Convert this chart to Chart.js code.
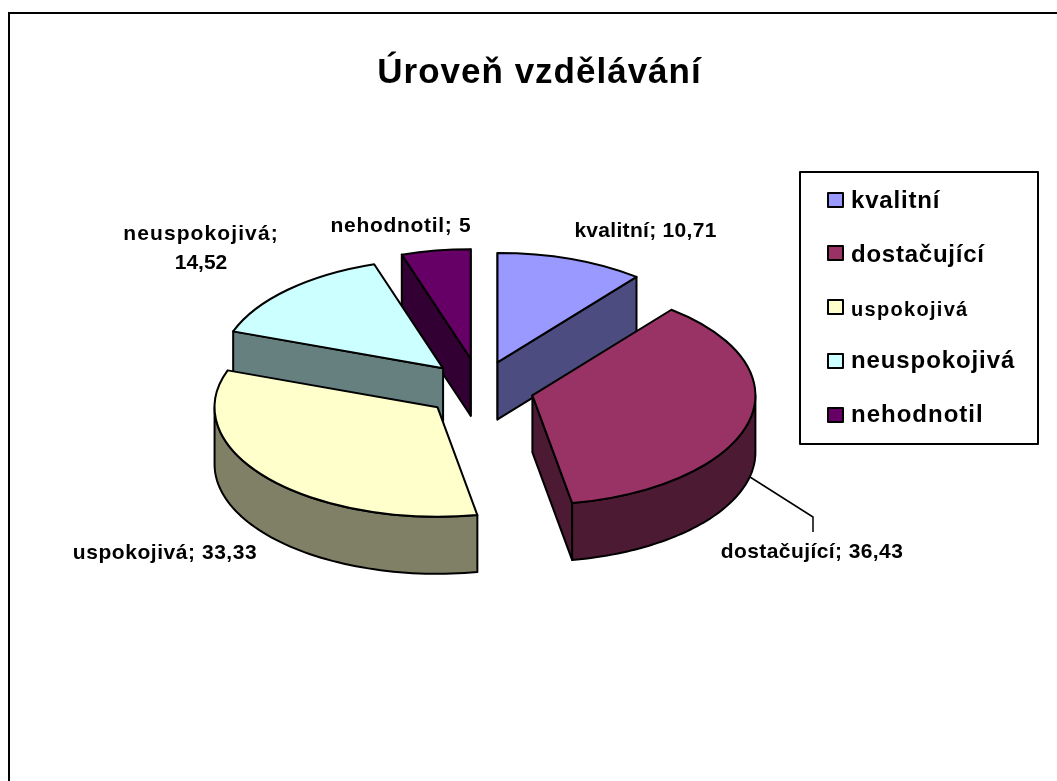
<!DOCTYPE html>
<html>
<head>
<meta charset="utf-8">
<title>Úroveň vzdělávání</title>
<script src="https://cdn.jsdelivr.net/npm/chart.js@4"></script>
<style>
  html, body { margin: 0; padding: 0; background: #fff; overflow: hidden; }
  #frame { position: absolute; left: 8px; top: 12px; width: 1056px; height: 769px; border-left: 2px solid #000; border-top: 2px solid #000; }
  #chart { display: block; }
</style>
</head>
<body>
<div id="frame"><canvas id="chart" width="1054" height="767"></canvas></div>
<script>
var categories = ['kvalitní', 'dostačující', 'uspokojivá', 'neuspokojivá', 'nehodnotil'];
var values = [10.71, 36.43, 33.33, 14.52, 5];
var topColors = ['#9999FF', '#993366', '#FFFFCC', '#CCFFFF', '#660066'];
var wallColors = ['#4C4C80', '#4D1A33', '#808066', '#668080', '#330033'];

// back to front
var drawOrder = [4, 3, 0, 2, 1];

var SQUASH = 0.491;
var DEPTH = 57;
var EXPLODE = 53;
var FONT = '"Liberation Sans", Arial, sans-serif';
var sliceNudge = [[0, 0], [1, 2], [-2, 3.5], [0, 0], [-1, -2.5]];

// text positions, canvas coords
var labelLines = [
  [categories[0] + '; ' + String(values[0]).replace('.', ',')],
  [categories[1] + '; ' + String(values[1]).replace('.', ',')],
  [categories[2] + '; ' + String(values[2]).replace('.', ',')],
  [categories[3] + ';', String(values[3]).replace('.', ',')],
  [categories[4] + '; ' + String(values[4]).replace('.', ',')]
];
var labelX = [635.5, 802, 155, 191, 391];
var labelY = [223, 544, 545, 226, 218];
var labelSpacing = [0.3, 0.42, 0.55, 1.1, 0.7];
var leaderLine = [[740, 463], [803, 503], [803, 518]];
var legendBox = [790, 158, 238, 272];
var legendRowY = [186, 239, 293, 347, 401];
var legendTextY = [194, 248, 302, 354, 408];
var legendFontSize = [24, 24, 20, 24, 24];
var legendSpacing = [0.8, 0.76, 1.3, 0.9, 1];

function piePoint(arc, off, angle) {
  return {
    x: arc.x + off.x + arc.outerRadius * Math.cos(angle),
    y: arc.y + off.y + arc.outerRadius * Math.sin(angle) * SQUASH
  };
}

function drawFace(ctx, apex, p) {
  ctx.beginPath();
  ctx.moveTo(apex.x, apex.y);
  ctx.lineTo(p.x, p.y);
  ctx.lineTo(p.x, p.y + DEPTH);
  ctx.lineTo(apex.x, apex.y + DEPTH);
  ctx.closePath();
  ctx.fill();
  ctx.stroke();
}

function drawSlice(ctx, arc, i) {
  var mid = (arc.startAngle + arc.endAngle) / 2;
  var off = {
    x: EXPLODE * Math.cos(mid) + sliceNudge[i][0],
    y: EXPLODE * Math.sin(mid) * SQUASH + sliceNudge[i][1]
  };
  var apex = { x: arc.x + off.x, y: arc.y + off.y };

  ctx.lineWidth = 2;
  ctx.lineJoin = 'round';
  ctx.strokeStyle = '#000';
  ctx.fillStyle = wallColors[i];

  // cut faces, only those turned towards us
  if (Math.cos(arc.startAngle) <= 1e-6) drawFace(ctx, apex, piePoint(arc, off, arc.startAngle));
  if (Math.cos(arc.endAngle) >= -1e-6) drawFace(ctx, apex, piePoint(arc, off, arc.endAngle));

  // outer wall, only the part that faces us
  var twoPi = Math.PI * 2;
  for (var k = -1; k <= 1; k++) {
    var from = Math.max(arc.startAngle, k * twoPi);
    var to = Math.min(arc.endAngle, k * twoPi + Math.PI);
    if (to <= from) continue;
    ctx.beginPath();
    for (var s = 0; s <= 60; s++) {
      var top = piePoint(arc, off, from + (to - from) * s / 60);
      if (s === 0) ctx.moveTo(top.x, top.y); else ctx.lineTo(top.x, top.y);
    }
    for (var t = 60; t >= 0; t--) {
      var low = piePoint(arc, off, from + (to - from) * t / 60);
      ctx.lineTo(low.x, low.y + DEPTH);
    }
    ctx.closePath();
    ctx.fill();
    ctx.stroke();
  }

  // top face: the library's own arc under a squashed transform
  ctx.save();
  ctx.translate(arc.x, arc.y);
  ctx.scale(1, SQUASH);
  ctx.translate(-arc.x, -arc.y);
  ctx.translate(off.x, off.y / SQUASH);
  arc.draw(ctx);
  ctx.beginPath();
  ctx.moveTo(arc.x, arc.y);
  ctx.arc(arc.x, arc.y, arc.outerRadius, arc.startAngle, arc.endAngle);
  ctx.closePath();
  ctx.restore();
  ctx.stroke();
}

var pie3d = {
  id: 'pie3d',
  afterLayout: function(chart) {
    // title is centred on the frame, not on the padded pie area
    chart.titleBlock.left = 5;
    chart.titleBlock.right = chart.width;
  },
  beforeDraw: function(chart) {
    chart.ctx.letterSpacing = '1px';
  },
  beforeDatasetsDraw: function(chart) {
    var ctx = chart.ctx;
    var arcs = chart.getDatasetMeta(0).data;
    drawOrder.forEach(function(i) {
      drawSlice(ctx, arcs[i], i);
    });
    return false;
  },
  afterDraw: function(chart) {
    var ctx = chart.ctx;
    ctx.save();
    ctx.fillStyle = '#000';
    ctx.strokeStyle = '#000';
    ctx.textBaseline = 'alphabetic';

    // data labels
    ctx.font = 'bold 21px ' + FONT;
    ctx.textAlign = 'center';
    labelLines.forEach(function(lines, i) {
      lines.forEach(function(line, j) {
        ctx.letterSpacing = (j === 0 ? labelSpacing[i] : 0) + 'px';
        ctx.fillText(line, labelX[i], labelY[i] + j * 29);
      });
    });

    ctx.lineWidth = 1.5;
    ctx.beginPath();
    leaderLine.forEach(function(p, i) {
      if (i === 0) ctx.moveTo(p[0], p[1]); else ctx.lineTo(p[0], p[1]);
    });
    ctx.stroke();

    // legend
    ctx.lineWidth = 2;
    ctx.strokeRect(legendBox[0], legendBox[1], legendBox[2], legendBox[3]);
    ctx.textAlign = 'left';
    categories.forEach(function(name, i) {
      ctx.fillStyle = topColors[i];
      ctx.fillRect(818, legendRowY[i] - 7, 15, 14);
      ctx.strokeRect(818, legendRowY[i] - 7, 15, 14);
      ctx.fillStyle = '#000';
      ctx.font = 'bold ' + legendFontSize[i] + 'px ' + FONT;
      ctx.letterSpacing = legendSpacing[i] + 'px';
      ctx.fillText(name, 841, legendTextY[i]);
    });
    ctx.restore();
  }
};

var chart = new Chart(document.getElementById('chart'), {
  type: 'pie',
  data: {
    labels: categories,
    datasets: [{
      data: values,
      backgroundColor: topColors,
      borderWidth: 0
    }]
  },
  options: {
    responsive: false,
    animation: false,
    layout: { padding: { left: 246, right: 360, top: 0, bottom: 171 } },
    plugins: {
      legend: { display: false },
      tooltip: { enabled: false },
      title: {
        display: true,
        text: 'Úroveň vzdělávání',
        color: '#000',
        font: { family: FONT, size: 35, weight: 'bold' },
        padding: { top: 38, bottom: 70 }
      }
    }
  },
  plugins: [pie3d]
});
</script>
</body>
</html>
